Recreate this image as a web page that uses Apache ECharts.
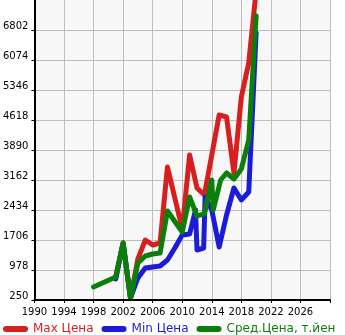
<!DOCTYPE html>
<html>
<head>
<meta charset="utf-8">
<script src="https://cdn.jsdelivr.net/npm/echarts@6/dist/echarts.min.js"></script>
<style>
  html, body { margin: 0; padding: 0; background: #ffffff; }
  #chart { width: 345px; height: 335px; }
</style>
</head>
<body>
<div id="chart"></div>
<script>
// Price history by year (thousand yen)
const maxYears  = [2001, 2002, 2003, 2004, 2005, 2006, 2007, 2008, 2010, 2011, 2012, 2013, 2015, 2016, 2017, 2018, 2019, 2020];
const maxValues = [808, 1640, 290, 1250, 1706, 1585, 1633, 3478, 1973, 3769, 2968, 2798, 4740, 4691, 3332, 5176, 6001, 7750];

const minYears  = [2001, 2002, 2003, 2004, 2005, 2006, 2007, 2008, 2009, 2010, 2011, 2011.8, 2012, 2012.9, 2013.1, 2014, 2015, 2016, 2017, 2018, 2019, 2020];
const minValues = [760, 1620, 300, 784, 1027, 1051, 1075, 1220, 1512, 1827, 1852, 2434, 1463, 1512, 2750, 2434, 1536, 2313, 2968, 2677, 2871, 6730];

const avgYears  = [1998, 2001, 2002, 2003, 2004, 2005, 2006, 2007, 2008, 2010, 2011, 2012, 2013, 2014, 2014.2, 2015.2, 2016, 2017, 2018, 2019, 2020];
const avgValues = [565, 808, 1633, 280, 1148, 1318, 1366, 1390, 2410, 1900, 2750, 2290, 2340, 3160, 2434, 3162, 3332, 3186, 3430, 4130, 7140];

// Axis ticks
const yTicks = [250, 978, 1706, 2434, 3162, 3890, 4618, 5346, 6074, 6802];
const yTop = 7530;
const yStep = 728;
const xTicks = [1990, 1994, 1998, 2002, 2006, 2010, 2014, 2018, 2022, 2026];
const xEnd = 2030;
const xStep = 4;

const seriesNames = ['Max Цена', 'Min Цена', 'Сред.Цена, т.йен'];
const seriesColors = ['#d81e1e', '#1c1cd8', '#0a7f0a'];

const pairs = (xs, ys) => xs.map((x, i) => [x, ys[i]]);
const pill = 'path://M3,0 L22,0 A3,3 0 0 1 22,6 L3,6 A3,3 0 0 1 3,0 Z';
const gridLineStyle = { color: '#bdbdbd', width: 1 };

const chart = echarts.init(document.getElementById('chart'), null, { renderer: 'canvas' });

const makeSeries = (name, color, data) => ({
  name: name,
  type: 'line',
  data: data,
  xAxisIndex: 0,
  yAxisIndex: 0,
  symbol: 'none',
  showSymbol: false,
  clip: true,
  animation: false,
  lineStyle: { color: color, width: 5, cap: 'round', join: 'round' },
  itemStyle: { color: color }
});

// Helper axes measured from the first tick, used only for the grid lines
const gridXAxis = {
  type: 'value', position: 'top', min: 0, max: xEnd - xTicks[0], interval: xStep,
  axisLine: { show: false }, axisTick: { show: false }, axisLabel: { show: false },
  splitLine: { show: true, lineStyle: gridLineStyle }, z: 0
};
const gridYAxis = {
  type: 'value', position: 'right', min: 0, max: yTop - yTicks[0], interval: yStep,
  axisLine: { show: false }, axisTick: { show: false }, axisLabel: { show: false },
  splitLine: { show: true, showMaxLine: false, lineStyle: gridLineStyle }, z: 0
};

chart.setOption({
  animation: false,
  backgroundColor: '#ffffff',
  textStyle: { fontFamily: 'DejaVu Sans' },
  grid: {
    left: 30, top: 0, width: 300, height: 300,
    show: true, backgroundColor: '#f7f7f7', borderWidth: 0
  },
  legend: {
    left: -2, top: 318, width: 420,
    itemWidth: 25, itemHeight: 6, itemGap: 8,
    icon: pill,
    data: seriesNames.map((n, i) => ({
      name: n,
      textStyle: { color: seriesColors[i] }
    })),
    textStyle: { fontFamily: 'DejaVu Sans', fontSize: 12 }
  },
  xAxis: [{
    type: 'value',
    min: xTicks[0], max: xEnd,
    axisLine: { show: true, onZero: false, lineStyle: { color: '#000', width: 2 } },
    axisTick: { show: true, length: 3, lineStyle: { color: '#000' }, customValues: xTicks.concat([xEnd]) },
    axisLabel: {
      customValues: xTicks,
      color: '#000', fontSize: 10, fontFamily: 'DejaVu Sans', margin: 7,
      formatter: v => String(v)
    },
    splitLine: { show: false },
    z: 5
  }, gridXAxis],
  yAxis: [{
    type: 'value',
    min: yTicks[0], max: yTop,
    axisLine: { show: true, onZero: false, lineStyle: { color: '#000', width: 2 } },
    axisTick: { show: true, length: 3, lineStyle: { color: '#000' }, customValues: yTicks },
    axisLabel: {
      customValues: yTicks,
      color: '#000', fontSize: 10, fontFamily: 'DejaVu Sans', margin: 6,
      verticalAlign: 'bottom', lineHeight: 7,
      formatter: v => String(v)
    },
    splitLine: { show: false },
    z: 5
  }, gridYAxis],
  series: [
    makeSeries(seriesNames[0], seriesColors[0], pairs(maxYears, maxValues)),
    makeSeries(seriesNames[1], seriesColors[1], pairs(minYears, minValues)),
    makeSeries(seriesNames[2], seriesColors[2], pairs(avgYears, avgValues))
  ]
});
</script>
</body>
</html>
